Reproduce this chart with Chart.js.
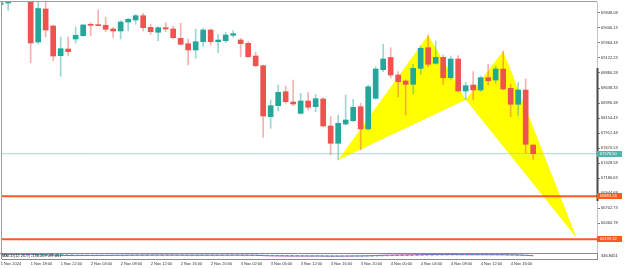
<!DOCTYPE html>
<html>
<head>
<meta charset="UTF-8">
<title>BTCUSD H1</title>
<script src="https://cdn.jsdelivr.net/npm/chart.js@4.4.1/dist/chart.umd.min.js"></script>
<style>
  html, body { margin: 0; padding: 0; background: #fff; }
  #wrap { position: relative; width: 625px; height: 269px; overflow: hidden; }
  #priceChart { position: absolute; left: 0; top: 0; }
  #macdChart { position: absolute; left: 0; top: 253px; }
</style>
</head>
<body>
<div id="wrap">
  <canvas id="priceChart" width="625" height="253"></canvas>
  <canvas id="macdChart" width="625" height="16"></canvas>
</div>
<script>
// hourly candles, index 0 = first bar on screen
const openP = [69988.4, 70009.4, 70080, 70210, 70150, 69380.3, 69912.6, 69638.4, 69159.3, 69267.4,
  69428.7, 69482.0, 69665.8, 69659.4, 69649.7, 69590.0, 69557.7, 69702.9, 69735.2, 69804.5,
  69617.4, 69536.8, 69611.0, 69590.0, 69440.0, 69352.9, 69251.3, 69385.2, 69573.9, 69385.2,
  69401.3, 69488.4, 69412.6, 69359.3, 69154.5, 68998.0, 68175.4, 68352.9, 68578.7, 68412.5,
  68230.3, 68428.6, 68336.7, 68460.9, 68025.4, 67746.4, 68057.7, 68110.9, 68336.7, 67977.0,
  68472.2, 68933.5, 69130.3, 68848.0, 68751.2, 68697.9, 68956.1, 69288.4, 69036.7, 69133.5,
  68804.4, 69106.0, 68590.0, 68686.7, 68606.1, 68804.4, 68767.4, 68944.8, 68633.5, 68375.4,
  68606.1, 67718.9];
const highP = [70025.5, 70090, 70260, 70290, 70190, 70057.8, 70041.6, 69654.5, 69461.0, 69461.0,
  69622.3, 69670.6, 69691.6, 69896.5, 69778.7, 69617.4, 69723.9, 69762.6, 69827.1, 69843.2,
  69670.6, 69627.1, 69691.6, 69638.4, 69682.0, 69428.7, 69585.2, 69601.3, 69590.0, 69504.5,
  69536.8, 69562.6, 69440.0, 69385.2, 69214.2, 69009.3, 68444.8, 68686.7, 68670.6, 68767.4,
  68552.8, 68569.0, 68536.7, 68481.9, 68175.4, 68202.8, 68525.4, 68456.1, 68391.6, 68686.7,
  68981.9, 69343.2, 69288.4, 68901.3, 68767.4, 69020.6, 69315.8, 69493.2, 69396.4, 69170.6,
  69154.5, 69159.3, 68730.3, 68901.3, 68831.9, 69020.6, 68993.2, 69235.2, 68697.9, 68730.3,
  68783.5, 67718.9];
const lowP = [69977.0, 69888.4, 70050, 70100, 69041.6, 69348.0, 69461.0, 69073.8, 68823.8, 69162.5,
  69364.2, 69469.0, 69482.0, 69638.4, 69546.5, 69456.1, 69428.7, 69557.7, 69665.8, 69557.7,
  69504.5, 69401.3, 69546.5, 69428.7, 69331.9, 69009.3, 69117.4, 69304.5, 69331.9, 69207.7,
  69369.0, 69456.1, 69143.2, 69133.5, 68981.9, 67843.1, 67988.3, 68267.4, 68391.6, 68348.0,
  68214.1, 68283.5, 68256.2, 68014.1, 67557.6, 67477.0, 68041.5, 68094.8, 67638.3, 67960.9,
  68456.1, 68901.3, 68799.6, 68493.2, 68202.8, 68541.5, 68859.3, 68981.9, 69020.6, 68697.9,
  68778.7, 68578.7, 68449.6, 68444.8, 68578.7, 68686.7, 68714.1, 68606.1, 68175.4, 68191.6,
  67585.1, 67488.3];
const closeP = [70014.0, 70041.6, 70210, 70150, 69364.2, 69920.7, 69573.9, 69154.5, 69272.3, 69223.9,
  69488.4, 69654.5, 69649.7, 69643.2, 69585.2, 69557.7, 69702.9, 69746.5, 69804.5, 69611.0,
  69546.5, 69611.0, 69590.0, 69449.7, 69343.2, 69251.3, 69385.2, 69573.9, 69385.2, 69412.6,
  69493.2, 69514.2, 69352.9, 69143.2, 68998.0, 68186.7, 68352.9, 68569.0, 68417.4, 68380.3,
  68428.6, 68327.0, 68465.7, 68025.4, 67746.4, 68068.9, 68122.2, 68327.0, 67977.0, 68659.3,
  68944.8, 69106.0, 68848.0, 68739.9, 68697.9, 68956.1, 69278.7, 69020.6, 69133.5, 68804.4,
  69106.0, 68590.0, 68675.4, 68606.1, 68804.4, 68756.1, 68944.8, 68622.2, 68375.4, 68606.1,
  67730.2, 67578.5];

// MACD(12,26,9) sub window
const macdVals = [120, 140, 150, 140, 90, 40, 10, -30, -70, -95,
  -105, -100, -90, -80, -70, -62, -50, -38, -25, -20,
  -18, -15, -14, -16, -22, -32, -35, -32, -30, -31,
  -28, -25, -28, -36, -48, -110, -150, -170, -180, -190,
  -185, -185, -180, -190, -210, -200, -190, -175, -170, -140,
  -95, -45, -15, 5, 15, 35, 60, 75, 85, 80,
  85, 70, 60, 55, 55, 50, 55, 45, 25, 10,
  -60, -136.209];
const signalVals = [60, 75, 88, 98, 96, 85, 70, 50, 26, 2,
  -20, -36, -47, -54, -57, -58, -57, -53, -48, -42,
  -37, -33, -29, -27, -26, -27, -29, -30, -30, -30,
  -30, -29, -29, -30, -34, -49, -69, -89, -107, -124,
  -136, -146, -153, -160, -170, -176, -179, -178, -176, -169,
  -154, -132, -109, -86, -66, -46, -25, -5, 13, 26,
  38, 44, 47, 49, 50, 50, 44, 30, 8, -20,
  -55, -87.051];
const macdTop = 346.8451;

// time axis labels (every 4th bar)
const timeTickIdx = [0, 4, 8, 12, 16, 20, 24, 28, 32, 36, 40, 44, 48, 52, 56, 60, 64, 68];
const timeTickText = ['1 Nov 2024', '1 Nov 18:00', '1 Nov 22:00', '2 Nov 04:00', '2 Nov 08:00', '2 Nov 12:00',
  '2 Nov 16:00', '2 Nov 20:00', '3 Nov 02:00', '3 Nov 06:00', '3 Nov 12:00', '3 Nov 16:00',
  '3 Nov 20:00', '4 Nov 00:00', '4 Nov 04:00', '4 Nov 08:00', '4 Nov 12:00', '4 Nov 16:00'];

// price scale labels
const priceTicks = [66218.83, 66460.78, 66702.73, 66944.68, 67186.63, 67428.58, 67670.53, 67912.48,
  68154.43, 68396.38, 68638.33, 68880.28, 69122.23, 69364.18, 69606.13, 69848.08];

// harmonic pattern X A B C D
const patternIdx = [45, 57, 62, 67, 76.8];
const patternPrice = [67477.0, 69493.2, 68449.6, 69235.2, 66218.8];

// horizontal levels
const bidLevel = 67578.5;
const orangeLevels = [66893.24, 66199.32];

const xMin = 0.18, xMax = 79.51;
const yMin = 65976.9, yMax = 70025.5;

const GREEN = '#26a69a', RED = '#ef5350';
const FONT = 'Liberation Sans';

const idx = openP.map((v, i) => i);
const isUp = i => closeP[i] >= openP[i];

function tri(a, b, c) {
  return [a, b, c].map(k => ({ x: patternIdx[k], y: patternPrice[k] }));
}
function hline(v, color, width) {
  return {
    type: 'line', data: [{ x: xMin, y: v }, { x: xMax, y: v }],
    borderColor: color, borderWidth: width, pointRadius: 0, order: 5, clip: 0
  };
}
function noPad(s) {
  s.paddingTop = 0; s.paddingBottom = 0; s.paddingLeft = 0; s.paddingRight = 0;
}

const tags = [
  { v: bidLevel, bg: '#4db6ac' },
  { v: orangeLevels[0], bg: '#ff5722' },
  { v: orangeLevels[1], bg: '#ff5722' }
];

const priceDecor = {
  id: 'priceDecor',
  afterDraw(chart) {
    const { ctx, chartArea: a } = chart;
    const y = chart.scales.y;
    ctx.save();
    ctx.strokeStyle = '#9e9e9e';
    ctx.lineWidth = 1;
    ctx.beginPath();
    ctx.moveTo(0, a.top - 0.5); ctx.lineTo(a.right, a.top - 0.5);
    ctx.moveTo(a.left - 0.5, a.top); ctx.lineTo(a.left - 0.5, a.bottom);
    ctx.stroke();
    // darker part of the price scale bar
    ctx.fillStyle = '#4a4a4a';
    ctx.fillRect(y.left - 0.5, 68, 2, 133);
    // price tags
    ctx.font = '4px "' + FONT + '"';
    ctx.textBaseline = 'middle';
    ctx.textAlign = 'left';
    tags.forEach(t => {
      const py = Math.round(y.getPixelForValue(t.v));
      ctx.fillStyle = t.bg;
      ctx.fillRect(y.left, py - 3, 25, 6);
      ctx.fillStyle = '#fff';
      ctx.fillText(t.v.toFixed(2), y.left + 3, py);
    });
    ctx.restore();
  }
};

new Chart(document.getElementById('priceChart'), {
  type: 'bar',
  data: {
    datasets: [
      { type: 'line', data: tri(0, 1, 2), fill: 'shape', backgroundColor: '#ffff00', borderColor: '#ffff00', borderWidth: 0, pointRadius: 0, order: 10, clip: 0 },
      { type: 'line', data: tri(2, 3, 4), fill: 'shape', backgroundColor: '#ffff00', borderColor: '#ffff00', borderWidth: 0, pointRadius: 0, order: 10, clip: 0 },
      hline(bidLevel, '#a6d9d3', 1),
      hline(orangeLevels[0], '#ff5722', 2),
      hline(orangeLevels[1], '#ff5722', 2),
      {
        label: 'wick', data: idx.map(i => ({ x: i, y: [lowP[i], highP[i]] })),
        backgroundColor: idx.map(i => isUp(i) ? 'rgba(38,166,154,0.45)' : 'rgba(239,83,80,0.45)'),
        barThickness: 1, grouped: false, clip: 0, order: 2
      },
      {
        label: 'body', data: idx.map(i => ({ x: i, y: [openP[i], closeP[i]] })),
        backgroundColor: idx.map(i => isUp(i) ? GREEN : RED),
        barThickness: 5, minBarLength: 1, grouped: false, clip: 0, order: 1
      }
    ]
  },
  options: {
    responsive: false,
    animation: false,
    events: [],
    layout: { padding: { left: 2, top: 2, right: 0, bottom: 0 } },
    plugins: { legend: { display: false }, tooltip: { enabled: false } },
    scales: {
      x: { type: 'linear', min: xMin, max: xMax, offset: false, display: false },
      y: {
        position: 'right', min: yMin, max: yMax,
        afterFit: s => { s.width = 28; noPad(s); },
        afterBuildTicks: s => { s.ticks = priceTicks.map(v => ({ value: v })); },
        border: { display: true, color: '#c4c4c4', width: 1 },
        grid: { display: true, drawOnChartArea: false, drawTicks: true, tickLength: 3, color: '#777' },
        ticks: { autoSkip: false, padding: 1, color: '#333', font: { family: FONT, size: 4 }, callback: v => v.toFixed(2) }
      }
    }
  },
  plugins: [priceDecor]
});

const macdDecor = {
  id: 'macdDecor',
  afterDraw(chart) {
    const { ctx, chartArea: a } = chart;
    ctx.save();
    ctx.strokeStyle = '#8a8a8a';
    ctx.lineWidth = 1;
    ctx.beginPath();
    ctx.moveTo(0, a.top + 0.5); ctx.lineTo(a.right, a.top + 0.5);
    ctx.moveTo(a.left - 0.5, a.top); ctx.lineTo(a.left - 0.5, a.bottom);
    ctx.stroke();
    ctx.font = '4px "' + FONT + '"';
    ctx.fillStyle = '#222';
    ctx.textBaseline = 'middle';
    ctx.fillText('MACD(12,26,9) ' + macdVals[macdVals.length - 1].toFixed(3) + ' ' + signalVals[signalVals.length - 1].toFixed(3), a.left, (a.top + a.bottom) / 2);
    ctx.restore();
  }
};

new Chart(document.getElementById('macdChart'), {
  type: 'line',
  data: {
    datasets: [
      { data: idx.map(i => ({ x: i, y: signalVals[i] })), borderColor: '#26a6b4', borderDash: [3, 2], borderWidth: 1, pointRadius: 0 },
      { data: idx.map(i => ({ x: i, y: macdVals[i] })), borderColor: '#b04cc8', borderWidth: 1, pointRadius: 0 }
    ]
  },
  options: {
    responsive: false,
    animation: false,
    events: [],
    layout: { padding: { left: 2, top: 0, right: 0, bottom: 0 } },
    plugins: { legend: { display: false }, tooltip: { enabled: false } },
    scales: {
      x: {
        type: 'linear', min: xMin, max: xMax, offset: false, position: 'bottom',
        afterFit: s => { s.height = 10; noPad(s); },
        afterBuildTicks: s => { s.ticks = timeTickIdx.map(v => ({ value: v })); },
        border: { display: true, color: '#8a8a8a' },
        grid: { display: false, drawTicks: false },
        ticks: { autoSkip: false, maxRotation: 0, align: 'start', padding: 2, color: '#333', font: { family: FONT, size: 4 }, callback: (v, i) => timeTickText[i] }
      },
      y: {
        position: 'right', min: -700, max: macdTop,
        afterFit: s => { s.width = 28; noPad(s); },
        afterBuildTicks: s => { s.ticks = [{ value: macdTop }]; },
        border: { display: true, color: '#8a8a8a' },
        grid: { display: false, drawTicks: false },
        ticks: { autoSkip: false, padding: 4, labelOffset: 3, color: '#222', font: { family: FONT, size: 4 }, callback: v => v.toFixed(4) }
      }
    }
  },
  plugins: [macdDecor]
});
</script>
</body>
</html>
